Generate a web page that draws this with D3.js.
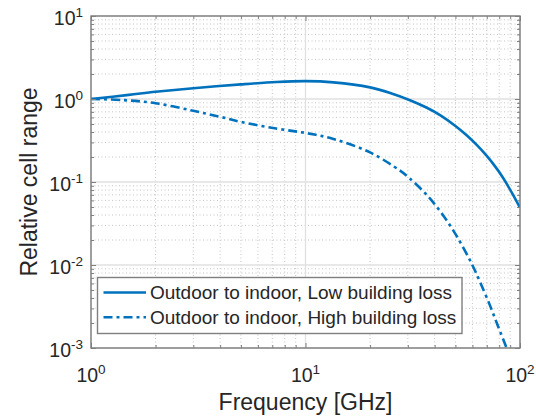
<!DOCTYPE html>
<html>
<head>
<meta charset="utf-8">
<script src="https://cdn.jsdelivr.net/npm/d3@7"></script>
<style>
  body { margin: 0; background: #fff; }
  text { font-family: "Liberation Sans", Arial, sans-serif; }
</style>
</head>
<body>
<div id="chart"></div>
<script>
// Series (frequency in GHz, relative cell range)
var lowFreq  = [1, 1.5, 2, 3, 5, 7.3, 10, 13.5, 20, 25, 30.7, 36.6, 42.4, 50, 56.4, 63, 70, 77, 83.6, 92, 100];
var lowRange = [1.0, 1.12, 1.22, 1.35, 1.50, 1.60, 1.64, 1.585, 1.38, 1.175, 0.968, 0.79, 0.64, 0.474, 0.366, 0.278, 0.206, 0.151, 0.111, 0.073, 0.049];

var highFreq  = [1, 1.41, 2, 3, 4, 5, 7.3, 10, 13.5, 20, 27.6, 30.3, 36.6, 43.6, 50.8, 59.6, 65, 72.5, 79, 86.7, 92];
var highRange = [1.0, 0.97, 0.89, 0.72, 0.61, 0.53, 0.44, 0.39, 0.33, 0.227, 0.137, 0.113, 0.0706, 0.0404, 0.0221, 0.0103, 0.0063, 0.00324, 0.00183, 0.00099, 0.00065];

var seriesNames = ["Outdoor to indoor, Low building loss", "Outdoor to indoor, High building loss"];

var xMajor = [1, 10, 100];
var yMajor = [0.001, 0.01, 0.1, 1, 10];
var xTickLabels = ["0", "1", "2"];           // exponents of 10
var yTickLabels = ["-3", "-2", "-1", "0", "1"];

// SVG area dimensions
var svgWidth = 536;
var svgHeight = 416;

var margin = { top: 16, right: 16, bottom: 68, left: 91 };
var chartWidth = svgWidth - margin.left - margin.right;
var chartHeight = svgHeight - margin.top - margin.bottom;

var lineColor = "#0072bd";
var axisColor = "#7f7f7f";
var textColor = "#262626";

var svg = d3.select("#chart")
    .append("svg")
    .attr("width", svgWidth)
    .attr("height", svgHeight);

var chartGroup = svg.append("g")
    .attr("transform", `translate(${margin.left}, ${margin.top})`);

var xScale = d3.scaleLog().domain([1, 100]).range([0, chartWidth]);
var yScale = d3.scaleLog().domain([0.001, 10]).range([chartHeight, 0]);

// minor positions 2..9 in each decade
function minors(decades) {
    var out = [];
    decades.forEach(function(d) {
        for (var k = 2; k <= 9; k++) out.push(k * d);
    });
    return out;
}
var xMinor = minors([1, 10]);
var yMinor = minors([0.001, 0.01, 0.1, 1]);

// minor grid (dotted)
chartGroup.append("g").selectAll("line")
    .data(xMinor).enter().append("line")
    .attr("x1", d => xScale(d)).attr("x2", d => xScale(d))
    .attr("y1", 0).attr("y2", chartHeight)
    .attr("stroke", "#c4c4c4").attr("stroke-width", 1)
    .attr("stroke-dasharray", "1,2.5");
chartGroup.append("g").selectAll("line")
    .data(yMinor).enter().append("line")
    .attr("y1", d => yScale(d)).attr("y2", d => yScale(d))
    .attr("x1", 0).attr("x2", chartWidth)
    .attr("stroke", "#c4c4c4").attr("stroke-width", 1)
    .attr("stroke-dasharray", "1,2.5");

// major grid (solid, light)
chartGroup.append("g").selectAll("line")
    .data(xMajor).enter().append("line")
    .attr("x1", d => xScale(d)).attr("x2", d => xScale(d))
    .attr("y1", 0).attr("y2", chartHeight)
    .attr("stroke", "#e0e0e0").attr("stroke-width", 1.3);
chartGroup.append("g").selectAll("line")
    .data(yMajor).enter().append("line")
    .attr("y1", d => yScale(d)).attr("y2", d => yScale(d))
    .attr("x1", 0).attr("x2", chartWidth)
    .attr("stroke", "#e0e0e0").attr("stroke-width", 1.3);

// clip lines to the axes box
chartGroup.append("clipPath").attr("id", "clip")
    .append("rect").attr("width", chartWidth).attr("height", chartHeight);

var line = d3.line()
    .x(d => xScale(d[0]))
    .y(d => yScale(d[1]))
    .curve(d3.curveCatmullRom.alpha(0.5));

var lowData = lowFreq.map((f, i) => [f, lowRange[i]]);
var highData = highFreq.map((f, i) => [f, highRange[i]]);

chartGroup.append("path")
    .datum(lowData)
    .attr("clip-path", "url(#clip)")
    .attr("fill", "none")
    .attr("stroke", lineColor)
    .attr("stroke-width", 2.6)
    .attr("d", line);

chartGroup.append("path")
    .datum(highData)
    .attr("clip-path", "url(#clip)")
    .attr("fill", "none")
    .attr("stroke", lineColor)
    .attr("stroke-width", 2.6)
    .attr("stroke-dasharray", "9,4,3,4")
    .attr("d", line);

// axes box with inward ticks on all four sides
function styleAxis(g) {
    g.select(".domain").remove();
    g.selectAll(".tick line").attr("stroke", axisColor).attr("stroke-width", 1);
    g.selectAll(".tick text").remove();
}
chartGroup.append("g").attr("transform", `translate(0, ${chartHeight})`)
    .call(d3.axisBottom(xScale).tickValues(xMajor).tickSize(-5)).call(styleAxis);
chartGroup.append("g").attr("transform", `translate(0, ${chartHeight})`)
    .call(d3.axisBottom(xScale).tickValues(xMinor).tickSize(-3)).call(styleAxis);
chartGroup.append("g")
    .call(d3.axisTop(xScale).tickValues(xMajor).tickSize(-5)).call(styleAxis);
chartGroup.append("g")
    .call(d3.axisTop(xScale).tickValues(xMinor).tickSize(-3)).call(styleAxis);
chartGroup.append("g")
    .call(d3.axisLeft(yScale).tickValues(yMajor).tickSize(-5)).call(styleAxis);
chartGroup.append("g")
    .call(d3.axisLeft(yScale).tickValues(yMinor).tickSize(-3)).call(styleAxis);
chartGroup.append("g").attr("transform", `translate(${chartWidth}, 0)`)
    .call(d3.axisRight(yScale).tickValues(yMajor).tickSize(-5)).call(styleAxis);
chartGroup.append("g").attr("transform", `translate(${chartWidth}, 0)`)
    .call(d3.axisRight(yScale).tickValues(yMinor).tickSize(-3)).call(styleAxis);

chartGroup.append("rect")
    .attr("width", chartWidth).attr("height", chartHeight)
    .attr("fill", "none").attr("stroke", axisColor).attr("stroke-width", 1.4);

// tick labels as 10 with superscript exponent
function powerLabel(sel, exps) {
    sel.append("tspan").text("10");
    sel.append("tspan")
        .attr("dy", -8)
        .attr("font-size", 13.5)
        .text((d, i) => exps[i]);
}

chartGroup.append("g").selectAll("text")
    .data(xMajor).enter().append("text")
    .attr("x", d => xScale(d))
    .attr("y", chartHeight + 33.5)
    .attr("text-anchor", "middle")
    .attr("font-size", 19.5)
    .attr("fill", textColor)
    .call(powerLabel, xTickLabels);

chartGroup.append("g").selectAll("text")
    .data(yMajor).enter().append("text")
    .attr("x", -8)
    .attr("y", d => yScale(d) + 8.5)
    .attr("text-anchor", "end")
    .attr("font-size", 19.5)
    .attr("fill", textColor)
    .call(powerLabel, yTickLabels);

// axis titles
chartGroup.append("text")
    .attr("x", chartWidth / 2)
    .attr("y", chartHeight + 61.5)
    .attr("text-anchor", "middle")
    .attr("font-size", 23)
    .attr("fill", textColor)
    .text("Frequency [GHz]");

chartGroup.append("text")
    .attr("transform", `translate(${37 - margin.left}, ${chartHeight / 2}) rotate(-90)`)
    .attr("text-anchor", "middle")
    .attr("font-size", 23)
    .attr("fill", textColor)
    .text("Relative cell range");

// legend
var legend = svg.append("g").attr("transform", "translate(97.5, 277.5)");
legend.append("rect")
    .attr("width", 364.5).attr("height", 56)
    .attr("fill", "#fff").attr("stroke", axisColor).attr("stroke-width", 1.4);

var legendRows = legend.selectAll("g.row")
    .data(seriesNames).enter().append("g")
    .attr("class", "row")
    .attr("transform", (d, i) => `translate(0, ${15 + i * 24.8})`);

legendRows.append("line")
    .attr("x1", 6).attr("x2", 48.5)
    .attr("stroke", lineColor).attr("stroke-width", 2.6)
    .attr("stroke-dasharray", (d, i) => i === 1 ? "9,4,3,4" : null);

legendRows.append("text")
    .attr("x", 52.5)
    .attr("y", 6.5)
    .attr("font-size", 19)
    .attr("fill", textColor)
    .text(d => d);
</script>
</body>
</html>
